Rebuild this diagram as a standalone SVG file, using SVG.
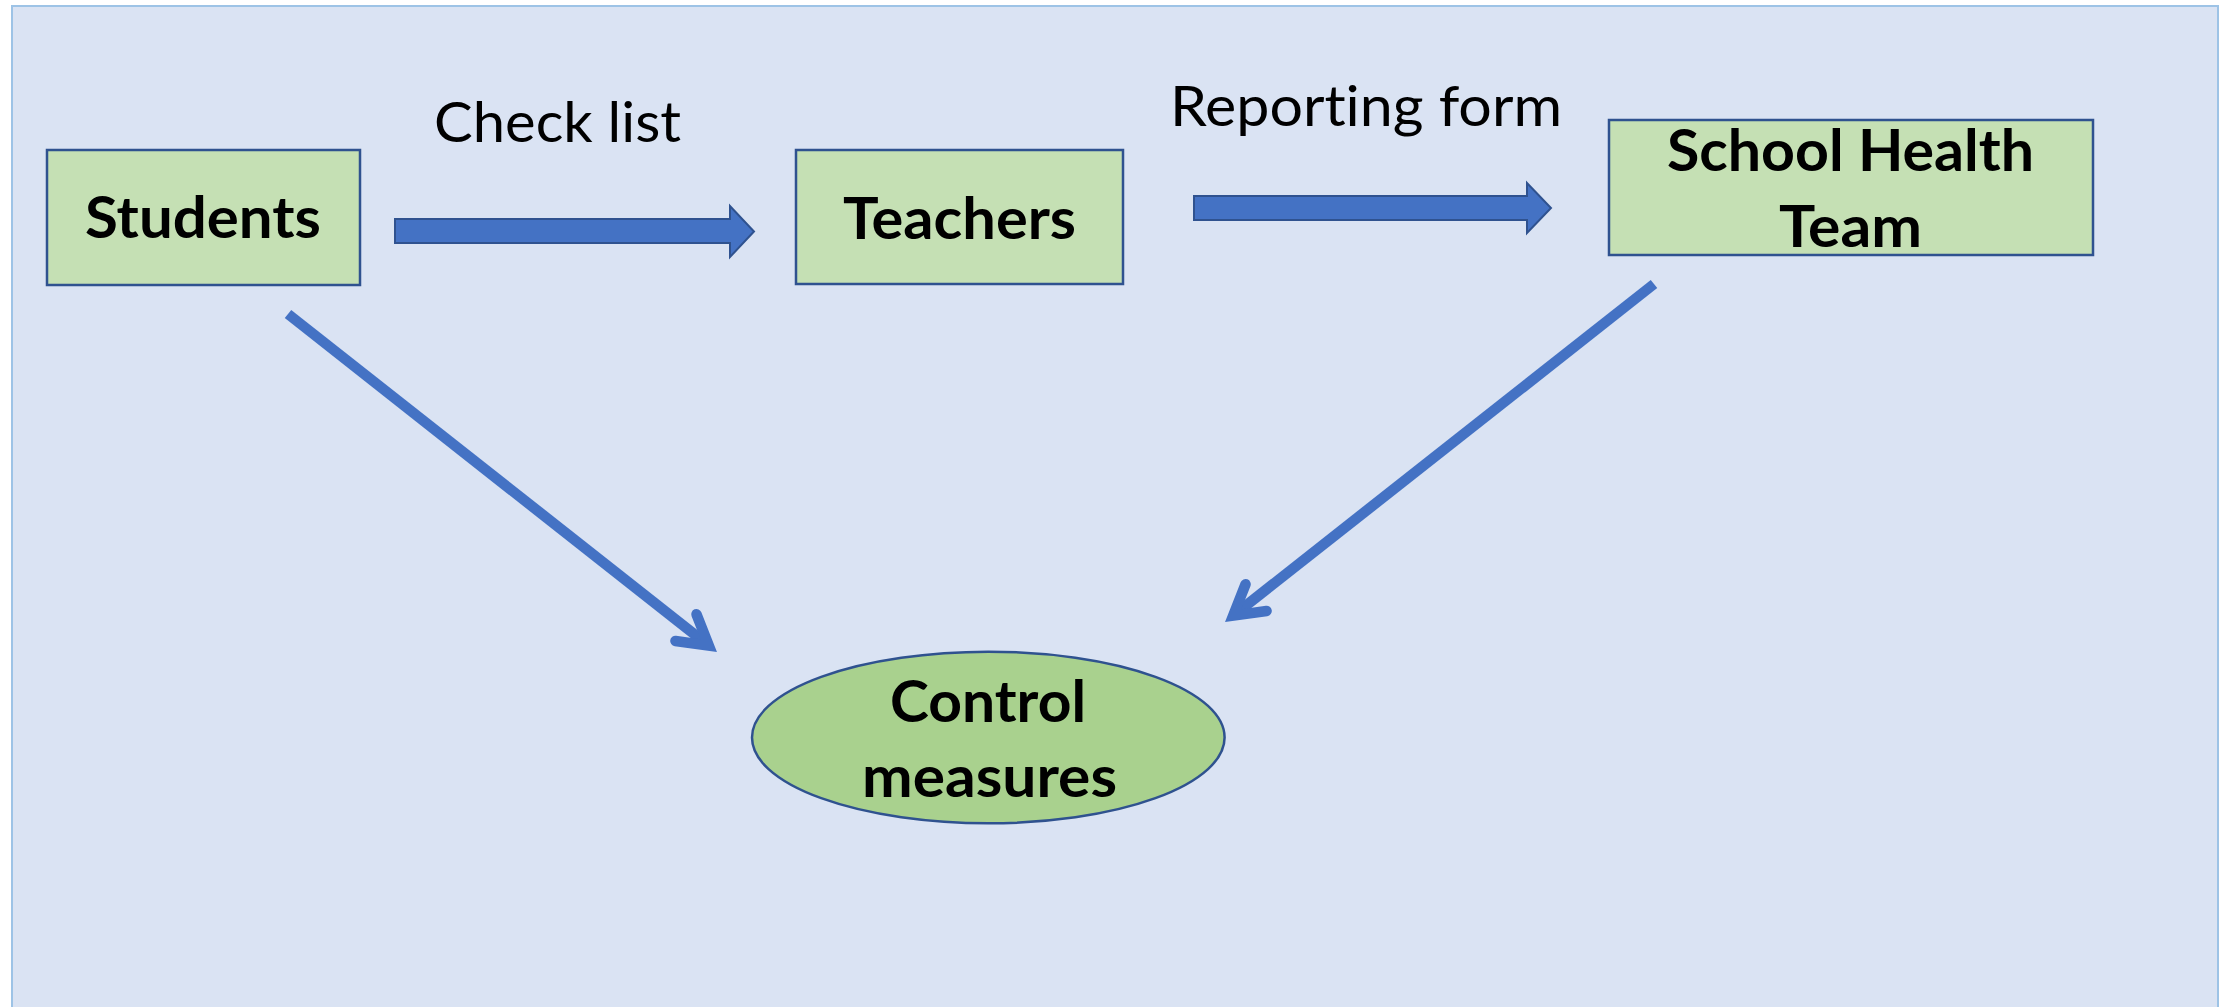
<svg xmlns="http://www.w3.org/2000/svg" width="2232" height="1007" viewBox="0 0 2232 1007">
  <style>
    .box { fill: #C5E0B4; stroke: #2F528F; stroke-width: 2.5; }
    .oval { fill: #A9D18E; stroke: #2F528F; stroke-width: 2.5; }
    .lbl { font-family: Lato, "Open Sans", "Liberation Sans", sans-serif; font-weight: bold; font-size: 57px; fill: #000; text-anchor: middle; font-variant-ligatures: none; }
    .cap { font-family: Lato, "Open Sans", "Liberation Sans", sans-serif; font-weight: normal; font-size: 56px; fill: #000; text-anchor: middle; font-variant-ligatures: none; }
    .block { fill: #4472C4; stroke: #2F528F; stroke-width: 2; }
    .line { fill: none; stroke: #4472C4; stroke-width: 10.5; stroke-linecap: butt; }
  </style>
  <defs>
    <marker id="openArrow" markerUnits="userSpaceOnUse" orient="auto" refX="0" refY="0" markerWidth="1" markerHeight="1" overflow="visible">
      <path d="M -29.1 -17 L 0 0 L -29.1 17" fill="none" stroke="#4472C4" stroke-width="10.5" stroke-linecap="round" stroke-linejoin="miter" stroke-miterlimit="10"/>
    </marker>
  </defs>

  <rect id="background" x="12" y="6" width="2206" height="1010" fill="#DAE3F3" stroke="#9DC3E6" stroke-width="2"/>

  <g id="connectors">
    <polygon class="block" points="395,219 730,219 730,206 754,231.5 730,257 730,243 395,243"/>
    <polygon class="block" points="1194,196 1527,196 1527,183 1551,208 1527,233 1527,220 1194,220"/>
    <path class="line" d="M 288 314 L 708.8 645.6" marker-end="url(#openArrow)"/>
    <path class="line" d="M 1654 284 L 1233.2 615.6" marker-end="url(#openArrow)"/>
    <text class="cap" x="557.5" y="142" textLength="247" lengthAdjust="spacingAndGlyphs">Check list</text>
    <text class="cap" x="1366" y="126" textLength="392" lengthAdjust="spacingAndGlyphs">Reporting form</text>
  </g>

  <g id="students">
    <rect class="box" x="47" y="150" width="313" height="135"/>
    <text class="lbl" x="203" y="238" textLength="236" lengthAdjust="spacingAndGlyphs">Students</text>
  </g>

  <g id="teachers">
    <rect class="box" x="796" y="150" width="327" height="134"/>
    <text class="lbl" x="959.5" y="239" textLength="233" lengthAdjust="spacingAndGlyphs">Teachers</text>
  </g>

  <g id="school-health-team">
    <rect class="box" x="1609" y="120" width="484" height="135"/>
    <text class="lbl" x="1850.5" y="171" textLength="367" lengthAdjust="spacingAndGlyphs">School Health</text>
    <text class="lbl" x="1850.5" y="247" textLength="143" lengthAdjust="spacingAndGlyphs">Team</text>
  </g>

  <g id="control-measures">
    <ellipse class="oval" cx="988.3" cy="737.5" rx="236.3" ry="85.8"/>
    <text class="lbl" x="988" y="722" textLength="196" lengthAdjust="spacingAndGlyphs">Control</text>
    <text class="lbl" x="989.5" y="797" textLength="255" lengthAdjust="spacingAndGlyphs">measures</text>
  </g>
</svg>
